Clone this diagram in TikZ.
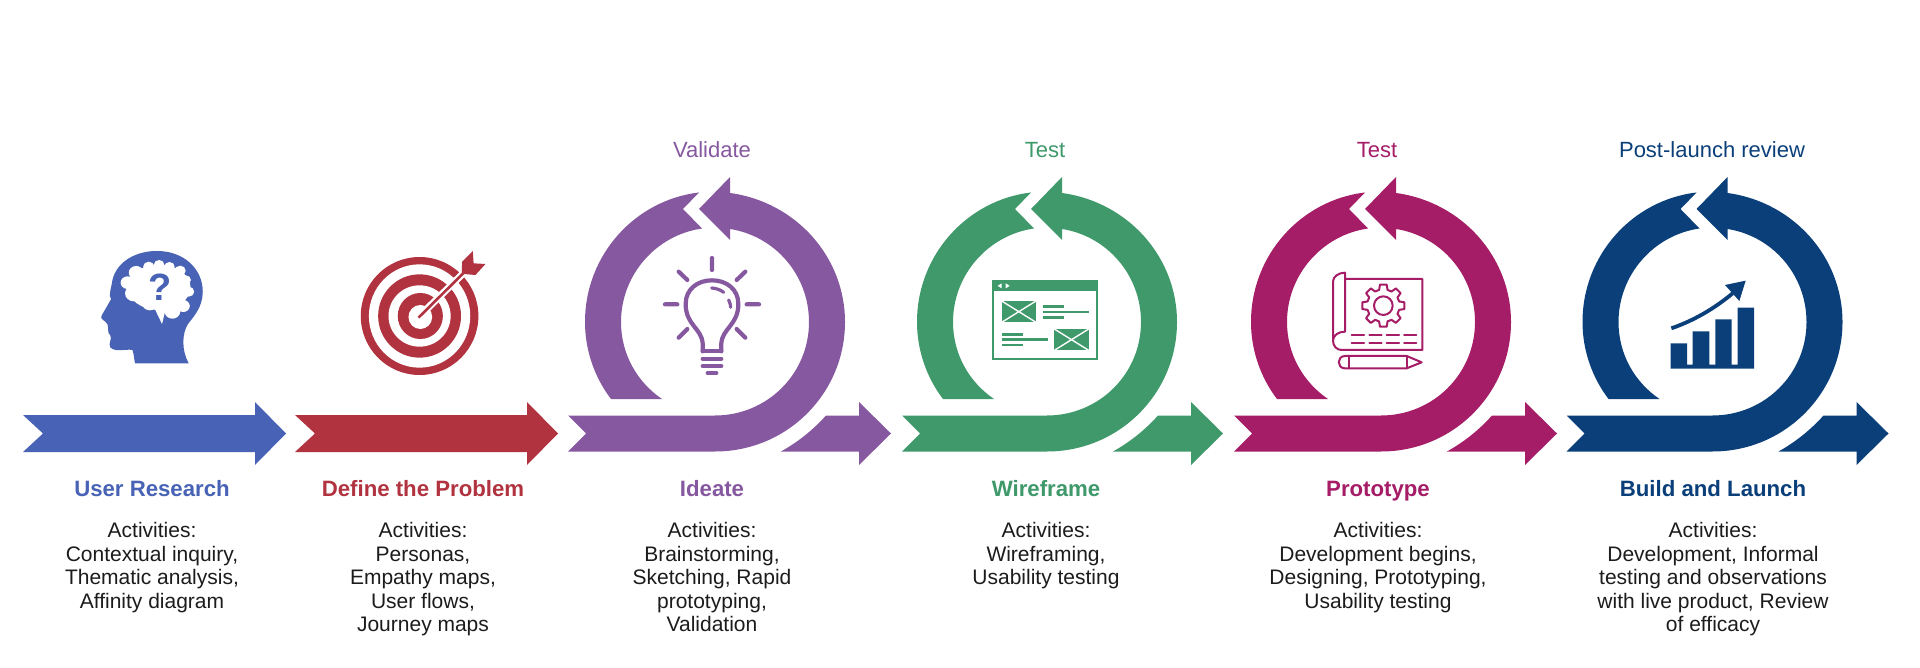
\documentclass[tikz,border=0pt]{standalone}
\usepackage{fontspec}
\usetikzlibrary{calc}
\setmainfont{Liberation Sans}
\definecolor{cblue}{HTML}{4863B5}
\definecolor{cred}{HTML}{B13340}
\definecolor{cpurple}{HTML}{85589F}
\definecolor{cgreen}{HTML}{3F996B}
\definecolor{cmag}{HTML}{A51C67}
\definecolor{cnavy}{HTML}{0A3F7A}
\definecolor{ctext}{HTML}{1C1C1C}
\tikzset{
  title/.style={font=\fontsize{22.2}{24}\selectfont\bfseries,anchor=base,inner sep=0pt},
  toplabel/.style={font=\fontsize{22}{24}\selectfont,anchor=base,inner sep=0pt},
  body/.style={font=\fontsize{21}{23.5}\selectfont,color=ctext,align=center,anchor=north,inner sep=0pt},
  icon/.style={line width=2pt,line cap=round,line join=round},
}
\begin{document}
\begin{tikzpicture}[x=1pt,y=-1pt]
\useasboundingbox (0,0) rectangle (1920,668);
\fill[white] (0,0) rectangle (1920,668);

% ---------- straight arrows
\fill[cblue] (23,415) -- (43,433.5) -- (23,452) -- (255,452) -- (255,465) -- (286,433.5) -- (255,402) -- (255,415) -- cycle;
\fill[cred] (295,415) -- (315,433.5) -- (295,452) -- (527,452) -- (527,465) -- (558,433.5) -- (527,402) -- (527,415) -- cycle;

% ---------- loop arrows
\foreach \dx/\col/\tl in {0/cpurple/568,332/cgreen/570,666/cmag/568,997.5/cnavy/569}{
  \begin{scope}[xshift=\dx pt]
    \fill[\col] (\tl,415.5) -- (\tl+18,433.5) -- (\tl,451.5) -- (715,451.5)
      .. controls (787,451.5) and (845,393.5) .. (845,322)
      .. controls (845,257) and (796,202) .. (730,193)
      -- (730,177) -- (699,209) -- (730,240) -- (730,229)
      .. controls (775,236) and (809,275) .. (809,322)
      .. controls (809,374) and (767,415.5) .. (715,415.5) -- cycle;
    \fill[\col] (699,192.5) -- (683,209) -- (702,228.5)
      .. controls (656,235) and (621,275) .. (621,322)
      .. controls (621,354) and (637,382) .. (662,399)
      -- (611,399)
      .. controls (595,378) and (585,351) .. (585,322)
      .. controls (585,255) and (635,200) .. (699,192.5) -- cycle;
    \fill[\col] (781,451.5) .. controls (798,442) and (813,430) .. (826,415.5)
      -- (859,415.5) -- (859,402) -- (891,433.5) -- (859,465) -- (859,451.5) -- cycle;
  \end{scope}
}

% ---------- head icon
\begin{scope}[shift={(0,230)},xscale=0.37,yscale=1/3]
  \fill[cblue] (365,400) .. controls (362,385) and (362,372) .. (358,360)
    .. controls (340,356) and (312,368) .. (298,352)
    .. controls (292,340) and (304,325) .. (298,316)
    .. controls (288,308) and (296,295) .. (290,282)
    .. controls (284,270) and (268,268) .. (275,256)
    -- (300,208) .. controls (292,195) and (302,170) .. (304,150)
    .. controls (316,92) and (372,62) .. (425,63)
    .. controls (495,63) and (548,115) .. (548,185)
    .. controls (548,230) and (525,258) .. (508,282)
    .. controls (492,310) and (490,360) .. (510,400) -- cycle;
  \fill[white] (345,158) circle[radius=19] (368,128) circle[radius=20] (402,110) circle[radius=15]
    (430,104) circle[radius=14] (458,110) circle[radius=14] (487,122) circle[radius=15]
    (502,150) circle[radius=14] (510,185) circle[radius=15] (495,228) circle[radius=18]
    (466,245) circle[radius=21] (405,220) circle[radius=21] (362,190) circle[radius=24]
    (430,172) ellipse[x radius=85,y radius=68];
  \fill[white] (418,236) -- (438,282) -- (448,236) -- cycle;
  \node[text=cblue,inner sep=0pt,font=\fontsize{38}{38}\selectfont\bfseries] (qmark) at (434,172) {?};
\end{scope}

% ---------- target icon
\begin{scope}[shift={(0,230)},xscale=0.37,yscale=1/3]
  \fill[cred] (1134,258) ellipse[x radius=159,y radius=177];
  \fill[white] (1134,258) ellipse[x radius=137,y radius=155];
  \fill[cred] (1134,258) ellipse[x radius=112,y radius=125];
  \fill[white] (1134,258) ellipse[x radius=84,y radius=92];
  \fill[cred] (1136,258) ellipse[x radius=61,y radius=69];
  \fill[white] (1136,261) ellipse[x radius=32,y radius=36];
  \draw[white,line width=7pt] (1150,241) -- (1252,130);
  \draw[cred,line width=2.6pt] (1131,263) -- (1252,130);
  \fill[cred] (1248,128) -- (1249,95) -- (1278,63) -- (1280,100) -- (1312,102) -- (1285,135) -- (1254,132) -- cycle;
\end{scope}

% ---------- bulb icon
\begin{scope}[shift={(550,130)},scale=1/3]
  \begin{scope}[icon,draw=cpurple,line width=4.2pt]
    \draw (458,664) -- (514,664);
    \draw (458,664) -- (458,640) .. controls (455,595) and (407,585) .. (407,522)
      .. controls (407,478) and (442,451) .. (486,451)
      .. controls (530,451) and (565,478) .. (565,522)
      .. controls (565,585) and (517,595) .. (514,640) -- (514,664);
    \draw (458,686) -- (514,686) (458,708) -- (514,708) (473,729) -- (499,729);
    \draw (486,384) -- (486,420) (386,425) -- (412,450) (586,425) -- (560,450)
      (345,523) -- (382,523) (590,523) -- (627,523) (386,623) -- (412,597) (586,623) -- (560,597);
    \draw[line width=3.2pt] (485,474) .. controls (500,475) and (512,480) .. (521,487);
    \draw[line width=3.2pt] (536,510) .. controls (540,518) and (542,525) .. (542,532);
  \end{scope}
\end{scope}

% ---------- wireframe icon
\begin{scope}[shift={(900,250)},scale=1/3]
  \draw[cgreen,line width=2pt] (280,93) rectangle (591,326);
  \fill[cgreen] (279,92) rectangle (592,122);
  \fill[white] (305,100) -- (305,115) -- (293,107.5) -- cycle;
  \fill[white] (317,100) -- (317,115) -- (329,107.5) -- cycle;
  \foreach \x/\y in {305/153,463/237}{
    \fill[cgreen] (\x,\y) rectangle (\x+103,\y+64);
    \draw[white,line width=1.4pt] (\x,\y) -- (\x+103,\y+64) (\x,\y+64) -- (\x+103,\y);
  }
  \draw[cgreen,line width=2.4pt] (428,170) -- (491,170) (428,185.5) -- (566,185.5) (428,202) -- (491,202)
    (305,253) -- (368,253) (305,268.5) -- (443,268.5) (305,285) -- (368,285);
\end{scope}

% ---------- prototype icon
\begin{scope}[shift={(1230,250)},scale=1/3]
  \begin{scope}[icon,draw=cmag]
    \draw (345,87) -- (577,87) -- (577,300) -- (335,300)
       .. controls (320,300) and (309,288) .. (309,272) -- (309,95)
       .. controls (309,80) and (325,68) .. (345,68) -- (345,245)
       .. controls (325,245) and (309,256) .. (309,272);
    \draw (460,167) circle[radius=28];
    \foreach \a in {0,45,...,315}{
      \draw ($(460,167)+({\a-15}:49)$) -- ($(460,167)+({\a-9}:64)$) -- ($(460,167)+({\a+9}:64)$) -- ($(460,167)+({\a+15}:49)$) -- ($(460,167)+({\a+30}:49)$);
    }
    \foreach \x in {365,418,470,522}{
      \draw (\x,256) -- (\x+37,256) (\x,278) -- (\x+37,278);
    }
    \draw (345,318) -- (530,318) -- (575,337) -- (530,355) -- (345,355)
      .. controls (320,355) and (320,318) .. (345,318);
    \draw (357,318) -- (357,355) (530,318) -- (530,355);
  \end{scope}
\end{scope}

% ---------- chart icon
\begin{scope}[shift={(1560,250)},scale=1/3]
  \fill[cnavy] (332,356) -- (332,280) -- (381,280) -- (381,344) -- (398,344) -- (398,244) -- (448,244)
     -- (448,344) -- (466,344) -- (466,208) -- (515,208) -- (515,344) -- (533,344) -- (533,173) -- (582,173) -- (582,356) -- cycle;
  \draw[cnavy,line width=3.8pt] (334,235) .. controls (400,212) and (460,178) .. (518,130);
  \fill[cnavy] (495,105) -- (557,92) -- (538,153) -- cycle;
\end{scope}

% ---------- top labels
\node[toplabel,text=cpurple] (t3) at (712,158) {Validate};
\node[toplabel,text=cgreen] (t4) at (1045,158) {Test};
\node[toplabel,text=cmag] (t5) at (1377,158) {Test};
\node[toplabel,text=cnavy] (t6) at (1712,158) {Post-launch review};

% ---------- titles
\node[title,text=cblue] (h1) at (152,496.5) {User Research};
\node[title,text=cred] (h2) at (423,496.5) {Define the Problem};
\node[title,text=cpurple] (h3) at (712,496.5) {Ideate};
\node[title,text=cgreen] (h4) at (1046,496.5) {Wireframe};
\node[title,text=cmag] (h5) at (1378,496.5) {Prototype};
\node[title,text=cnavy] (h6) at (1713,496.5) {Build and Launch};

% ---------- bodies
\node[body] (b1) at (152,522.5) {Activities:\\Contextual inquiry,\\Thematic analysis,\\Affinity diagram};
\node[body] (b2) at (423,522.5) {Activities:\\Personas,\\Empathy maps,\\User flows,\\Journey maps};
\node[body] (b3) at (712,522.5) {Activities:\\Brainstorming,\\Sketching, Rapid\\prototyping,\\Validation};
\node[body] (b4) at (1046,522.5) {Activities:\\Wireframing,\\Usability testing};
\node[body] (b5) at (1378,522.5) {Activities:\\Development begins,\\Designing, Prototyping,\\Usability testing};
\node[body] (b6) at (1713,522.5) {Activities:\\Development, Informal\\testing and observations\\with live product, Review\\of efficacy};
\end{tikzpicture}
\end{document}
